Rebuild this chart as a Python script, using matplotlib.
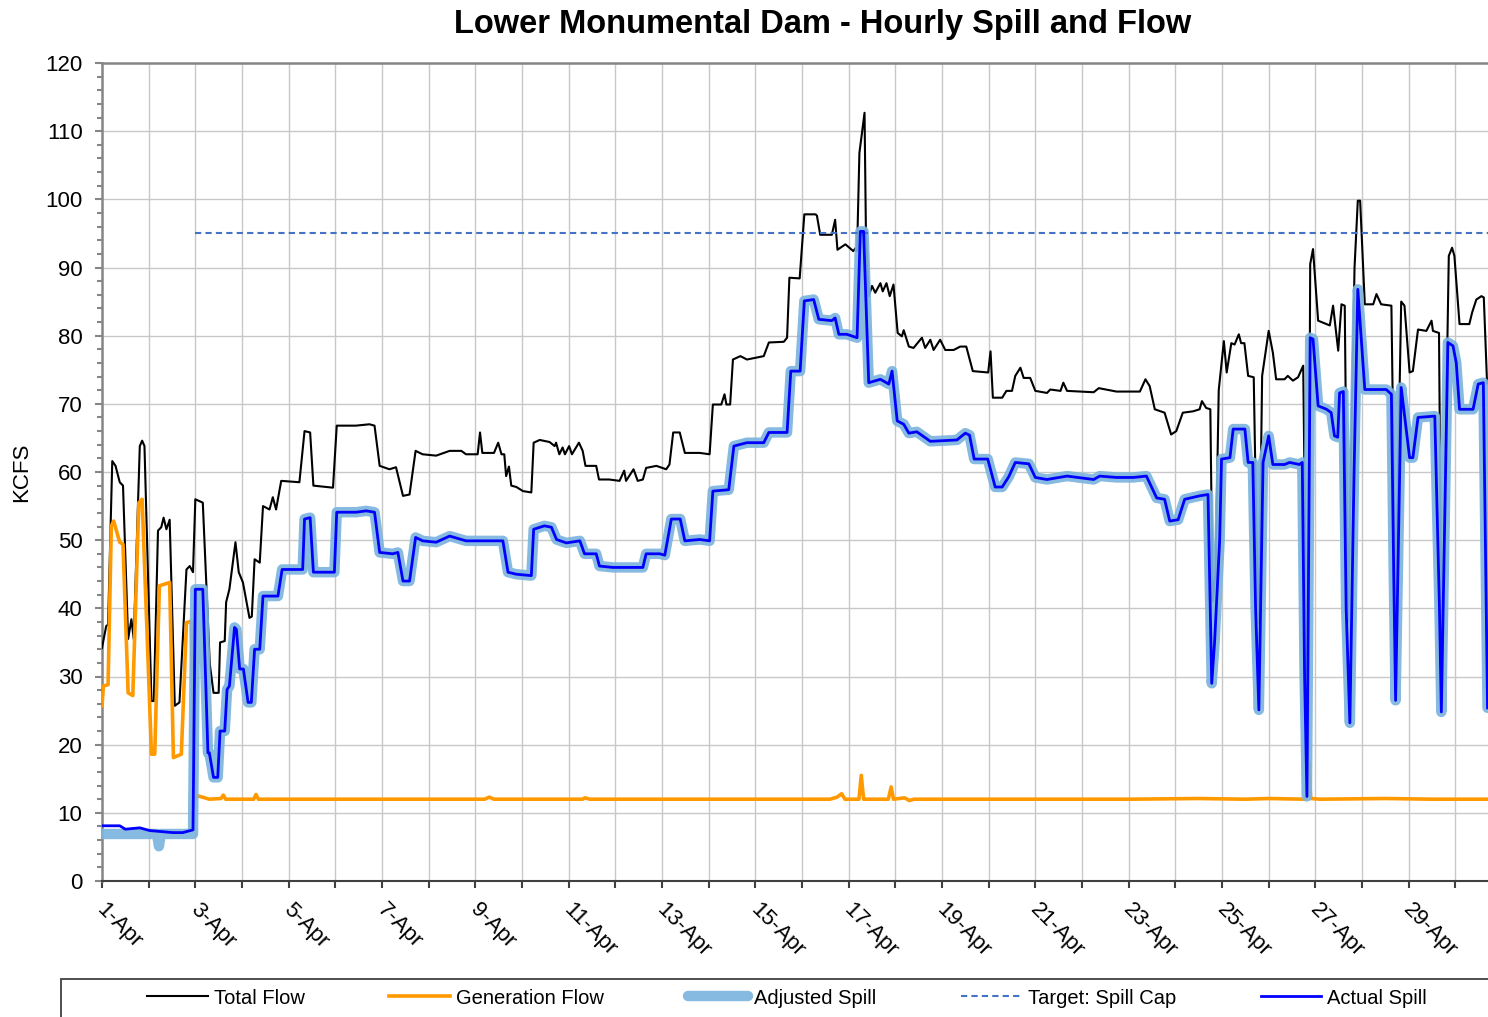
import matplotlib
matplotlib.use('Agg')
import matplotlib.pyplot as plt
from matplotlib.ticker import MultipleLocator
from matplotlib.patches import Rectangle

plt.rcParams['font.family'] = ['Liberation Sans', 'DejaVu Sans']

# ---------------- data (x = days since 1-Apr 00:00) ----------------
title = "Lower Monumental Dam - Hourly Spill and Flow"
y_label = "KCFS"
tick_days = [0, 2, 4, 6, 8, 10, 12, 14, 16, 18, 20, 22, 24, 26, 28]
tick_labels = ["1-Apr", "3-Apr", "5-Apr", "7-Apr", "9-Apr", "11-Apr", "13-Apr",
               "15-Apr", "17-Apr", "19-Apr", "21-Apr", "23-Apr", "25-Apr",
               "27-Apr", "29-Apr"]

total_day = [0.00, 0.09, 0.13, 0.22, 0.29, 0.38, 0.45, 0.56, 0.63, 0.68, 0.81, 0.86, 0.91,
             1.06, 1.11, 1.20, 1.27, 1.32, 1.38, 1.45, 1.56, 1.66, 1.81, 1.88, 1.95, 2.00,
             2.16, 2.31, 2.39, 2.50, 2.53, 2.63, 2.66, 2.73, 2.86, 2.93, 3.02, 3.16, 3.21,
             3.27, 3.38, 3.45, 3.59, 3.66, 3.73, 3.84, 4.23, 4.34, 4.46, 4.53, 4.95, 5.03,
             5.44, 5.73, 5.84, 5.95, 6.16, 6.30, 6.45, 6.59, 6.72, 6.87, 7.16, 7.45, 7.70,
             7.80, 8.05, 8.10, 8.15, 8.40, 8.49, 8.56, 8.62, 8.66, 8.72, 8.77, 8.88, 9.02,
             9.20, 9.25, 9.38, 9.59, 9.70, 9.73, 9.80, 9.87, 9.92, 10.01, 10.07, 10.22,
             10.30, 10.36, 10.59, 10.65, 10.87, 11.09, 11.19, 11.23, 11.39, 11.48, 11.59,
             11.66, 11.88, 12.09, 12.16, 12.24, 12.38, 12.49, 12.81, 13.02, 13.09, 13.27,
             13.34, 13.38, 13.46, 13.52, 13.68, 13.82, 14.18, 14.29, 14.61, 14.68, 14.73,
             14.95, 15.05, 15.29, 15.32, 15.39, 15.64, 15.71, 15.76, 15.93, 16.10, 16.14,
             16.18, 16.23, 16.34, 16.37, 16.43, 16.50, 16.57, 16.68, 16.73, 16.81, 16.88,
             16.96, 17.05, 17.14, 17.18, 17.29, 17.39, 17.57, 17.64, 17.75, 17.82, 17.96,
             18.07, 18.25, 18.39, 18.52, 18.66, 18.99, 19.04, 19.09, 19.29, 19.38, 19.50,
             19.57, 19.68, 19.75, 19.89, 20.00, 20.25, 20.32, 20.54, 20.60, 20.68, 21.25,
             21.36, 21.74, 22.24, 22.36, 22.45, 22.56, 22.77, 22.91, 23.02, 23.16, 23.38,
             23.52, 23.57, 23.66, 23.75, 23.80, 23.86, 23.93, 24.04, 24.10, 24.20, 24.27,
             24.36, 24.41, 24.48, 24.56, 24.68, 24.74, 24.79, 24.86, 25.00, 25.09, 25.16,
             25.34, 25.41, 25.52, 25.63, 25.74, 25.80, 25.84, 25.89, 25.95, 26.06, 26.31,
             26.38, 26.49, 26.56, 26.63, 26.70, 26.76, 26.84, 26.91, 26.96, 27.06, 27.24,
             27.31, 27.41, 27.63, 27.68, 27.72, 27.84, 27.91, 28.02, 28.09, 28.20, 28.38,
             28.49, 28.52, 28.65, 28.68, 28.71, 28.86, 28.93, 28.98, 29.09, 29.30, 29.36,
             29.45, 29.56, 29.61, 29.68]
total_flow = [34.2, 37.4, 37.6, 61.6, 60.9, 58.5, 58.0, 35.5, 38.4, 35.5, 63.8, 64.6, 63.8,
              26.4, 26.4, 51.4, 51.9, 53.3, 51.6, 53.0, 25.7, 26.2, 45.7, 46.2, 45.3, 56.0,
              55.5, 31.8, 27.6, 27.6, 35.0, 35.2, 40.9, 42.8, 49.7, 45.3, 43.8, 38.6, 38.8,
              47.2, 46.7, 55.0, 54.5, 56.3, 54.5, 58.7, 58.5, 66.0, 65.8, 58.0, 57.7, 66.8,
              66.8, 67.0, 66.8, 60.9, 60.4, 60.7, 56.5, 56.7, 63.1, 62.6, 62.4, 63.1, 63.1,
              62.6, 62.6, 65.8, 62.8, 62.8, 64.3, 62.6, 62.6, 59.4, 60.8, 58.0, 57.8, 57.2,
              57.0, 64.3, 64.7, 64.4, 63.8, 64.3, 62.6, 63.6, 62.6, 63.8, 62.6, 64.3,
              63.1, 60.9, 60.9, 58.9, 58.9, 58.7, 60.2, 58.7, 60.4, 58.7, 58.9,
              60.6, 60.9, 60.4, 61.1, 65.8, 65.8, 62.8, 62.8, 62.6, 69.9, 69.9,
              71.4, 69.9, 69.9, 76.5, 77.0, 76.5, 77.0, 79.0, 79.1, 79.7, 88.5,
              88.4, 97.8, 97.8, 97.6, 94.8, 94.8, 97.0, 92.6, 93.4, 92.4, 92.8,
              92.4, 106.8, 112.7, 95.0, 85.8, 87.3, 86.3, 87.7, 86.5, 87.7, 85.8,
              87.5, 80.4, 79.9, 80.8, 78.4, 78.2, 79.7, 78.2, 79.4, 77.9, 79.4,
              77.9, 77.9, 78.4, 78.4, 74.8, 74.6, 77.7, 70.9, 70.9, 71.9, 71.9,
              74.1, 75.3, 73.8, 73.8, 71.9, 71.6, 72.1, 71.9, 73.1, 71.9, 71.7,
              72.3, 71.8, 71.8, 73.6, 72.6, 69.2, 68.7, 65.5, 66.0, 68.7, 68.9,
              69.2, 70.4, 69.4, 69.2, 41.0, 45.0, 72.0, 79.2, 74.6, 78.9, 78.7,
              80.2, 78.9, 78.9, 74.1, 73.9, 50.0, 37.8, 74.1, 80.7, 77.5, 73.6,
              73.6, 74.1, 73.4, 73.9, 75.6, 40.0, 13.0, 90.5, 92.7, 82.2, 81.5,
              84.4, 77.8, 84.6, 84.4, 38.0, 60.0, 90.0, 99.8, 99.8, 84.6, 84.6,
              86.1, 84.6, 84.4, 60.0, 40.0, 85.0, 84.4, 74.6, 74.8, 80.9, 80.7,
              82.2, 80.7, 80.4, 55.0, 30.0, 91.7, 92.9, 91.7, 81.7, 81.7, 83.4,
              85.3, 85.8, 85.6, 73.0]

gen_day = [0.00, 0.03, 0.13, 0.20, 0.25, 0.38, 0.45, 0.56, 0.66, 0.79, 0.86, 1.06, 1.13,
           1.23, 1.45, 1.53, 1.70, 1.81, 1.91, 2.00, 2.05, 2.15, 2.30, 2.55, 2.60, 2.65,
           3.25, 3.30, 3.35, 4.00, 6.50, 8.20, 8.30, 8.40, 10.30, 10.35, 10.45, 14.00,
           15.60, 15.75, 15.85, 15.92, 16.22, 16.27, 16.32, 16.85, 16.91, 16.96, 17.20,
           17.30, 17.40, 20.00, 22.00, 23.50, 24.50, 25.00, 25.78, 25.82, 25.86, 25.90,
           26.10, 27.50, 28.50, 29.68]
gen_flow = [25.7, 28.6, 28.8, 52.1, 52.8, 49.7, 49.4, 27.6, 27.2, 55.5, 56.0, 18.6, 18.6,
            43.3, 43.8, 18.1, 18.6, 37.9, 38.1, 12.0, 12.5, 12.3, 12.0, 12.1, 12.6, 12.0,
            12.0, 12.7, 12.0, 12.0, 12.0, 12.0, 12.3, 12.0, 12.0, 12.2, 12.0, 12.0,
            12.0, 12.3, 12.8, 12.0, 12.0, 15.5, 12.0, 12.0, 13.8, 12.0, 12.2,
            11.8, 12.0, 12.0, 12.0, 12.1, 12.0, 12.1, 12.0, 12.5, 17.3, 12.1,
            12.0, 12.1, 12.0, 12.0]

spill_day = [0.00, 0.38, 0.50, 0.81, 1.02, 1.52, 1.73, 1.95, 2.00, 2.16, 2.27, 2.30, 2.39,
             2.48, 2.53, 2.63, 2.68, 2.73, 2.84, 2.88, 2.95, 3.03, 3.13, 3.20, 3.27, 3.38,
             3.45, 3.77, 3.86, 4.30, 4.34, 4.46, 4.53, 4.98, 5.03, 5.45, 5.66, 5.84, 5.95,
             6.23, 6.34, 6.45, 6.59, 6.72, 6.87, 7.16, 7.45, 7.80, 8.59, 8.70, 8.88, 9.20,
             9.25, 9.48, 9.63, 9.74, 9.95, 10.24, 10.34, 10.59, 10.66, 10.95, 11.59, 11.66,
             11.95, 12.06, 12.20, 12.39, 12.49, 12.81, 13.02, 13.09, 13.43, 13.54, 13.82,
             14.18, 14.29, 14.68, 14.76, 14.96, 15.05, 15.25, 15.36, 15.64, 15.71, 15.79,
             15.96, 16.18, 16.25, 16.32, 16.43, 16.68, 16.86, 16.93, 17.04, 17.18, 17.29,
             17.46, 17.75, 18.32, 18.50, 18.59, 18.69, 18.98, 19.14, 19.29, 19.43, 19.57,
             19.86, 20.00, 20.25, 20.68, 21.25, 21.38, 21.74, 22.10, 22.38, 22.60, 22.77,
             22.88, 23.06, 23.20, 23.52, 23.70, 23.78, 23.84, 23.95, 23.99, 24.17, 24.24,
             24.49, 24.56, 24.66, 24.72, 24.79, 24.88, 25.00, 25.09, 25.34, 25.45, 25.66,
             25.72, 25.77, 25.82, 25.89, 25.95, 26.06, 26.24, 26.34, 26.41, 26.48, 26.52,
             26.60, 26.66, 26.74, 26.83, 26.91, 27.06, 27.52, 27.63, 27.68, 27.72, 27.84,
             28.02, 28.09, 28.20, 28.56, 28.66, 28.70, 28.84, 28.95, 29.02, 29.09, 29.38,
             29.49, 29.60, 29.69]
actual_spill = [8.1, 8.1, 7.6, 7.8, 7.4, 7.1, 7.1, 7.5, 42.8, 42.8, 18.8, 18.8, 15.2,
                15.2, 22.0, 22.0, 28.1, 28.6, 37.2, 36.9, 31.1, 31.1, 26.2, 26.2, 34.0, 34.0,
                41.8, 41.8, 45.7, 45.7, 53.1, 53.3, 45.3, 45.3, 54.1, 54.1, 54.3, 54.1, 48.2,
                48.0, 48.2, 44.0, 44.0, 50.4, 49.9, 49.7, 50.6, 49.9, 49.9, 45.3, 45.0, 44.8,
                51.6, 52.1, 51.9, 50.1, 49.6, 49.9, 48.0, 48.0, 46.2, 46.0, 46.0, 48.0,
                48.0, 47.8, 53.1, 53.1, 49.9, 50.1, 49.9, 57.2, 57.4, 63.8, 64.3,
                64.3, 65.8, 65.8, 74.8, 74.8, 85.1, 85.3, 82.4, 82.2, 82.6, 80.2,
                80.2, 79.7, 95.3, 95.3, 73.1, 73.6, 72.9, 74.8, 67.5, 67.0, 65.7,
                65.9, 64.5, 64.7, 65.7, 65.4, 61.9, 61.9, 57.8, 57.8, 59.3, 61.4,
                61.2, 59.2, 58.9, 59.4, 58.9, 59.4, 59.2, 59.2, 59.4, 56.2, 56.0,
                52.8, 53.0, 56.0, 56.5, 56.7, 29.0, 34.9, 50.0, 61.9, 62.1, 66.3,
                66.3, 61.4, 61.4, 40.0, 25.1, 61.4, 65.3, 61.1, 61.1, 61.4, 61.1,
                61.4, 30.0, 12.4, 79.7, 79.5, 69.7, 69.2, 68.7, 65.3, 65.1, 71.6,
                71.8, 40.0, 23.2, 60.0, 86.8, 72.1, 72.1, 71.4, 45.0, 26.5, 72.4,
                62.1, 62.1, 68.0, 68.2, 40.0, 24.8, 79.0, 78.5, 76.0, 69.2, 69.2,
                72.9, 73.1, 25.4]

# adjusted spill differs from actual spill only before 3-Apr
adj_early_day = [0.00, 1.18, 1.22, 1.26, 1.95]
adj_early_val = [6.9, 6.9, 5.1, 6.9, 6.9]

cap_day = [2.0, 30.0]
cap_val = [95, 95]

# ---------------- figure ----------------
W, H = 1488, 1017
fig = plt.figure(figsize=(W / 100, H / 100), dpi=100)
ax = fig.add_axes([102 / W, 1 - 881 / H, 1400 / W, (881 - 63) / H])

adj_day = adj_early_day + [d for d in spill_day if d >= 2.0]
adj_val = adj_early_val + [v for d, v in zip(spill_day, actual_spill) if d >= 2.0]

l_total, = ax.plot(total_day, total_flow, color='black', lw=1.5, zorder=3,
                   label='Total Flow')
l_gen, = ax.plot(gen_day, gen_flow, color='#FF9900', lw=2.6, zorder=3,
                 label='Generation Flow')
l_adj, = ax.plot(adj_day, adj_val, color='#7DB4DE', lw=7.5, zorder=4, alpha=0.92,
                 solid_capstyle='round', solid_joinstyle='round',
                 label='Adjusted Spill')
l_cap, = ax.plot(cap_day, cap_val, color='#4472C4', lw=1.5, dashes=(3, 2), zorder=5,
                 label='Target: Spill Cap')
l_act, = ax.plot(spill_day, actual_spill, color='#0000FF', lw=2.0, zorder=6,
                 label='Actual Spill')

ax.set_xlim(0, 30)
ax.set_ylim(0, 120)

ax.yaxis.set_major_locator(MultipleLocator(10))
ax.yaxis.set_minor_locator(MultipleLocator(2))
ax.xaxis.set_major_locator(MultipleLocator(1))
ax.xaxis.set_major_formatter(plt.NullFormatter())

ax.grid(True, which='major', color='#C8C8C8', lw=1.0, zorder=0)
ax.set_axisbelow(True)

ax.tick_params(axis='y', which='major', direction='out', length=5, width=1.5,
               color='#868686', labelsize=16, pad=9, labelcolor='black')
ax.tick_params(axis='y', which='minor', direction='out', length=3.5, width=1.5,
               color='#868686')
ax.tick_params(axis='x', which='major', direction='out', length=5, width=1.5,
               color='#404040')

for d, lab in zip(tick_days, tick_labels):
    ax.annotate(lab, xy=(d, 0), xycoords=('data', 'axes fraction'),
                xytext=(4, -13), textcoords='offset points',
                rotation=-45, rotation_mode='anchor', ha='left', va='top',
                fontsize=16, annotation_clip=False)

for side in ['left', 'top', 'right']:
    ax.spines[side].set_color('#868686')
    ax.spines[side].set_linewidth(1.8)
ax.spines['bottom'].set_color('#404040')
ax.spines['bottom'].set_linewidth(1.5)

fig.text(823 / W, 1 - 25 / H, title, ha='center', va='center', fontsize=23.5,
         fontweight='bold')
fig.text(22 / W, 1 - 472 / H, y_label, ha='center', va='center', rotation=90,
         fontsize=16)

# legend frame (extends beyond the visible canvas)
fig.patches.append(Rectangle((61 / W, -0.1), 2.0, 0.1 + (1 - 979 / H),
                             transform=fig.transFigure, fill=False,
                             edgecolor='#404040', lw=1.3, clip_on=False))
fig.legend(handles=[l_total, l_gen, l_adj, l_cap, l_act], loc='center',
           bbox_to_anchor=(787 / W, 1 - 998 / H), ncol=5, frameon=False,
           fontsize=14.5, handlelength=3.0, handletextpad=0.3,
           columnspacing=4.2)

fig.savefig('out.png', dpi=100)
